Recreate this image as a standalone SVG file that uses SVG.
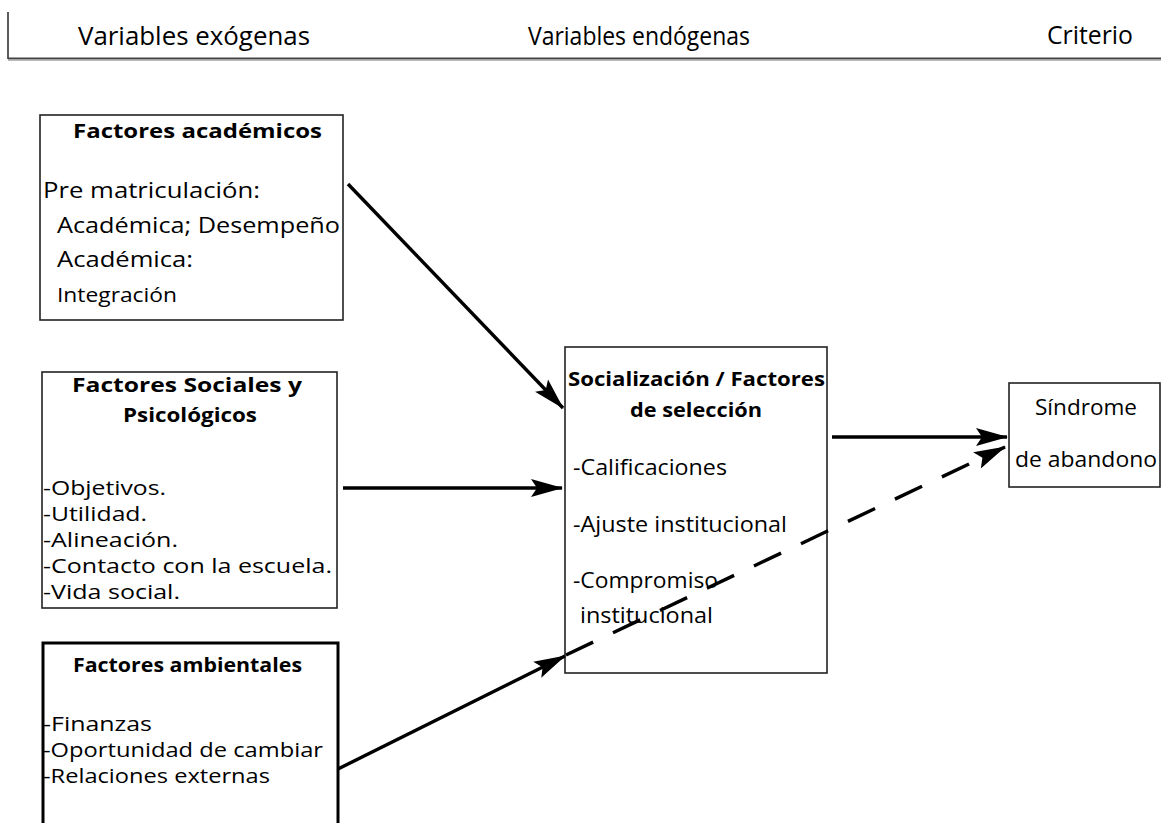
<svg xmlns="http://www.w3.org/2000/svg" width="1161" height="823" viewBox="0 0 1161 823">
  <style>
    text { font-family: "Open Sans", "Noto Sans", "DejaVu Sans", sans-serif; fill: #000; }
    .hdr { font-size: 25px; }
    .ttl { font-size: 19px; font-weight: bold; }
    .txt { font-size: 22px; }
    .lst { font-size: 20px; }
    .mid { font-size: 21px; }
    .sm { font-size: 20px; }
    .box { fill: #fff; stroke: #222; stroke-width: 1.6; }
    .thick { stroke-width: 3; stroke: #000; }
    .link { stroke: #000; stroke-width: 3.4; fill: none; }
    .dash { stroke-dasharray: 30 22; }
  </style>
  <defs>
    <marker id="head" markerWidth="32" markerHeight="20" refX="31" refY="10" orient="auto" markerUnits="userSpaceOnUse">
      <path d="M0,1 L32,10 L0,19 L6,10 Z" fill="#000"/>
    </marker>
  </defs>
  <rect width="1161" height="823" fill="#fff"/>

  <!-- column headings -->
  <g id="header">
    <line x1="8" y1="12" x2="8" y2="59" stroke="#333" stroke-width="1.6"/>
    <line x1="8" y1="58.5" x2="1161" y2="58.5" stroke="#444" stroke-width="2"/>
    <line x1="8" y1="60.5" x2="1161" y2="60.5" stroke="#bbb" stroke-width="1"/>
    <text class="hdr" x="78" y="45" textLength="232" lengthAdjust="spacingAndGlyphs">Variables exógenas</text>
    <text class="hdr" x="528" y="45" textLength="222" lengthAdjust="spacingAndGlyphs">Variables endógenas</text>
    <text class="hdr" x="1047" y="44" textLength="86" lengthAdjust="spacingAndGlyphs">Criterio</text>
  </g>

  <g id="academicos">
    <rect class="box" x="40" y="115" width="303" height="205"/>
    <text class="ttl" x="73" y="138" textLength="249" lengthAdjust="spacingAndGlyphs">Factores académicos</text>
    <text class="txt" x="43" y="198" textLength="217" lengthAdjust="spacingAndGlyphs">Pre matriculación:</text>
    <text class="txt" x="57" y="233" textLength="283" lengthAdjust="spacingAndGlyphs">Académica; Desempeño</text>
    <text class="txt" x="57" y="267" textLength="136" lengthAdjust="spacingAndGlyphs">Académica:</text>
    <text class="sm" x="57" y="302" textLength="120" lengthAdjust="spacingAndGlyphs">Integración</text>
  </g>

  <g id="sociales">
    <rect class="box" x="42" y="372" width="295" height="236"/>
    <text class="ttl" x="72" y="392" textLength="230" lengthAdjust="spacingAndGlyphs">Factores Sociales y</text>
    <text class="ttl" x="123" y="422" textLength="134" lengthAdjust="spacingAndGlyphs">Psicológicos</text>
    <text class="lst" x="43" y="495" textLength="123" lengthAdjust="spacingAndGlyphs">-Objetivos.</text>
    <text class="lst" x="43" y="521" textLength="104" lengthAdjust="spacingAndGlyphs">-Utilidad.</text>
    <text class="lst" x="43" y="547" textLength="135" lengthAdjust="spacingAndGlyphs">-Alineación.</text>
    <text class="lst" x="43" y="573" textLength="289" lengthAdjust="spacingAndGlyphs">-Contacto con la escuela.</text>
    <text class="lst" x="43" y="599" textLength="137" lengthAdjust="spacingAndGlyphs">-Vida social.</text>
  </g>

  <g id="ambientales">
    <rect class="box thick" x="43" y="643" width="295" height="200"/>
    <text class="ttl" x="73" y="672" textLength="229" lengthAdjust="spacingAndGlyphs">Factores ambientales</text>
    <text class="lst" x="43" y="731" textLength="109" lengthAdjust="spacingAndGlyphs">-Finanzas</text>
    <text class="lst" x="43" y="757" textLength="280" lengthAdjust="spacingAndGlyphs">-Oportunidad de cambiar</text>
    <text class="lst" x="43" y="783" textLength="227" lengthAdjust="spacingAndGlyphs">-Relaciones externas</text>
  </g>

  <g id="socializacion">
    <rect class="box" x="565" y="347" width="262" height="326"/>
    <text class="ttl" x="568" y="386" textLength="257" lengthAdjust="spacingAndGlyphs">Socialización / Factores</text>
    <text class="ttl" x="630" y="417" textLength="132" lengthAdjust="spacingAndGlyphs">de selección</text>
    <text class="mid" x="573" y="475" textLength="154" lengthAdjust="spacingAndGlyphs">-Calificaciones</text>
    <text class="mid" x="573" y="532" textLength="214" lengthAdjust="spacingAndGlyphs">-Ajuste institucional</text>
    <text class="mid" x="573" y="588" textLength="145" lengthAdjust="spacingAndGlyphs">-Compromiso</text>
    <text class="mid" x="580" y="623" textLength="133" lengthAdjust="spacingAndGlyphs">institucional</text>
  </g>

  <g id="abandono">
    <rect class="box" x="1009" y="383" width="151" height="104"/>
    <text class="mid" x="1035" y="415" textLength="102" lengthAdjust="spacingAndGlyphs">Síndrome</text>
    <text class="mid" x="1015" y="467" textLength="142" lengthAdjust="spacingAndGlyphs">de abandono</text>
  </g>

  <!-- connectors, drawn last so the dashed path crosses the central box -->
  <g id="connectors">
    <line class="link" x1="348" y1="184" x2="563" y2="408" marker-end="url(#head)"/>
    <line class="link" x1="343" y1="488" x2="562" y2="488" marker-end="url(#head)"/>
    <line class="link" x1="338" y1="769" x2="565" y2="656" marker-end="url(#head)"/>
    <line class="link dash" x1="566" y1="655" x2="1005" y2="447" marker-end="url(#head)"/>
    <line class="link" x1="832" y1="437" x2="1007" y2="437" marker-end="url(#head)"/>
  </g>
</svg>
